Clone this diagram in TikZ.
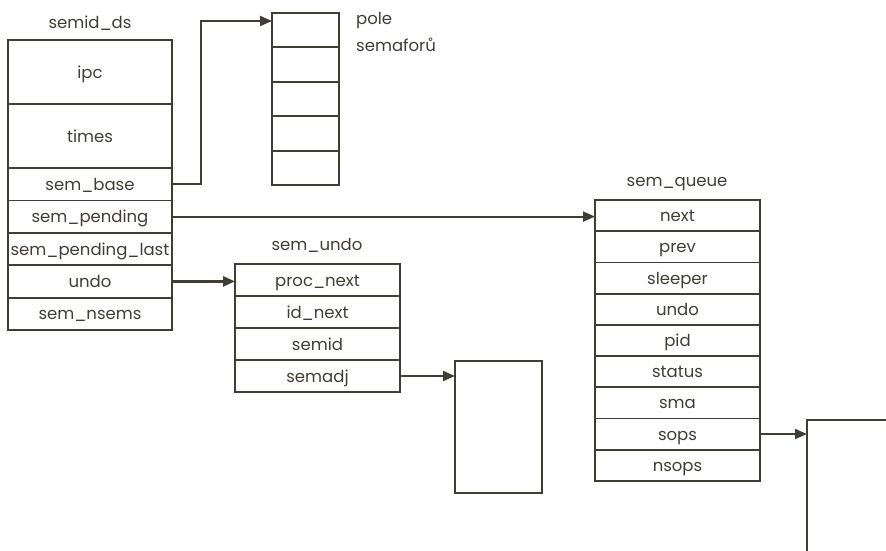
\documentclass[tikz,border=0pt]{standalone}
\usepackage{fontspec}
\setmainfont{Poppins}
\usetikzlibrary{arrows.meta}
\definecolor{ink}{HTML}{3F3D36}
\tikzset{
  fld/.style={draw=ink, line width=1.8pt, text=ink, minimum width=#1, minimum height=32pt,
    inner sep=0pt, outer sep=0pt, anchor=north west, text height=13pt, text depth=1pt,
    font=\fontsize{16.5}{18}\selectfont},
  fld/.default=164pt,
  ttl/.style={text=ink, inner sep=0pt, font=\fontsize{16.5}{18}\selectfont},
  arr/.style={draw=ink, line width=1.8pt, -{Triangle[length=12pt,width=10pt]}},
  plainbox/.style={draw=ink, line width=1.8pt, inner sep=0pt, outer sep=0pt, anchor=north west}
}
\begin{document}
\begin{tikzpicture}[x=1pt,y=-1pt]
\useasboundingbox (0,0) rectangle (886,551);
% semid_ds
\node[ttl] (tsemid) at (90,23) {semid\_ds};
\node[fld, minimum height=64pt] (ipc) at (8,40) {ipc};
\node[fld, minimum height=64pt] (times) at (8,104) {times};
\node[fld, minimum height=32.4pt] (sbase) at (8,168) {sem\_base};
\node[fld, minimum height=32.4pt] (spend) at (8,200.4) {sem\_pending};
\node[fld, minimum height=32.4pt] (spendl) at (8,232.8) {sem\_pending\_last};
\node[fld, minimum height=32.4pt] (undo) at (8,265.2) {undo};
\node[fld, minimum height=32.4pt] (nsems) at (8,297.6) {sem\_nsems};
% pole semaforu
\foreach \i in {0,...,4} {
  \node[plainbox, minimum width=67pt, minimum height=34.4pt] (p\i) at (272,13+34.4*\i) {};
}
\node[ttl, align=left, anchor=north west, font=\fontsize{16.5}{27}\selectfont] (tpole) at (356,12) {pole\\semaforů};
% sem_undo
\node[ttl] (tundo) at (317,245) {sem\_undo};
\node[fld=165pt] (procnext) at (235,264) {proc\_next};
\node[fld=165pt] (idnext) at (235,296) {id\_next};
\node[fld=165pt] (semid) at (235,328) {semid};
\node[fld=165pt] (semadj) at (235,360) {semadj};
\node[plainbox, minimum width=87pt, minimum height=132pt] (adjbox) at (455,361) {};
% sem_queue
\node[ttl] (tqueue) at (677,184) {sem\_queue};
\foreach \n/\t [count=\k from 0] in {next/next, prev/prev, sleeper/sleeper, qundo/undo, pid/pid, status/status, sma/sma, sops/sops, nsops/nsops} {
  \node[fld=165pt, minimum height=31.2pt] (\n) at (595,200+31.2*\k) {\t};
}
\begin{scope}
\clip (0,0) rectangle (886,551);
\node[plainbox, minimum width=120pt, minimum height=160pt] (opsbox) at (807,420) {};
\end{scope}
% connectors
\draw[arr] (sbase.east) -- ++(29,0) |- ([yshift=-8pt]p0.north west);
\draw[arr] (spend.east) -- (spend.east -| next.west);
\draw[arr, line width=2.4pt] (undo.east) -- (undo.east -| procnext.west);
\draw[arr] (semadj.east) -- (semadj.east -| adjbox.west);
\draw[arr] (sops.east) -- (sops.east -| opsbox.west);
\end{tikzpicture}
\end{document}
